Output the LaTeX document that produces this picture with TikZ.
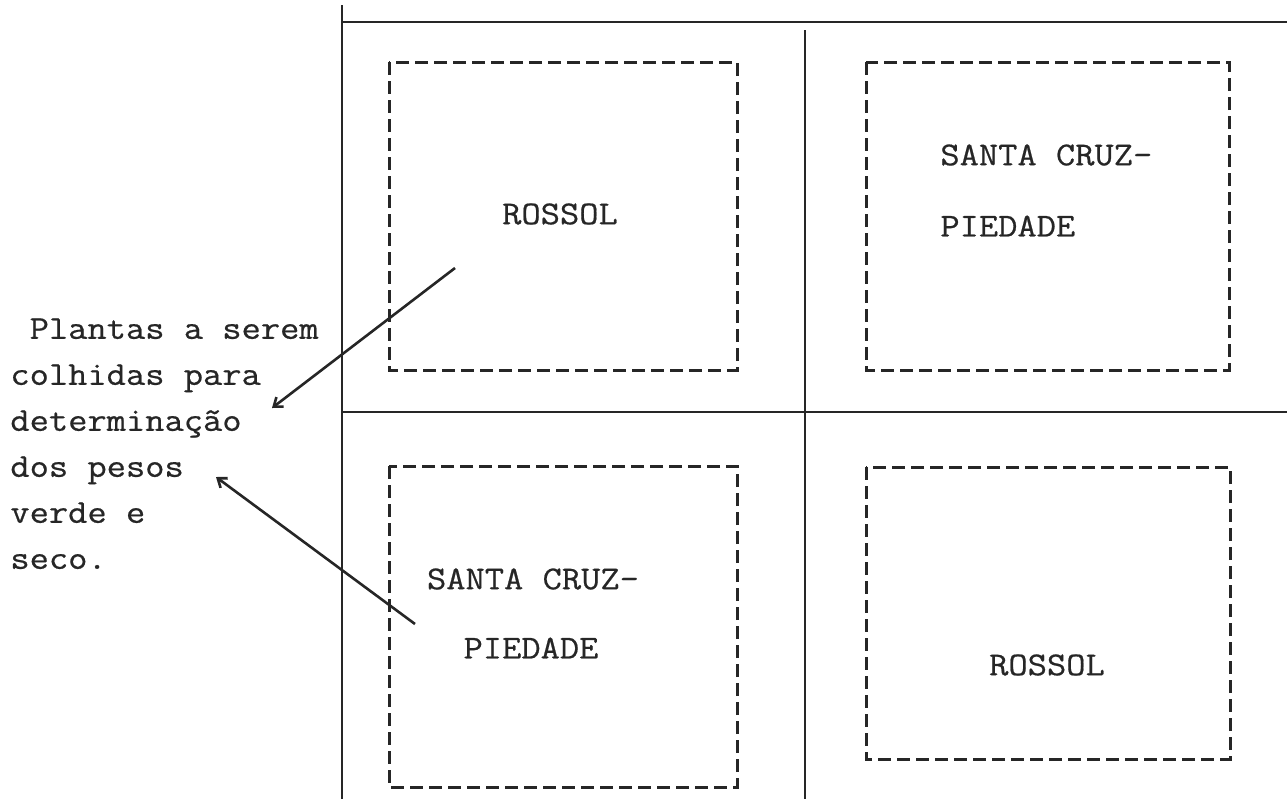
\documentclass[tikz,border=0pt]{standalone}
\usepackage{fontspec}
\setmonofont{Latin Modern Mono}[FakeStretch=1.12,FakeBold=0.6]
\usetikzlibrary{arrows.meta}
\begin{document}
\begin{tikzpicture}[x=0.5pt,y=-0.5pt,
  frame/.style={line width=1.1pt, draw=black!85},
  plotbox/.style={line width=1.5pt, draw=black!85, dash pattern=on 6.5pt off 3pt},
  lbl/.style={font=\ttfamily\fontsize{16.7}{23}\selectfont, text=black!85, inner sep=0pt},
  pointer/.style={line width=1.3pt, draw=black!85, -{Straight Barb[length=4pt,width=6pt]}}]
\useasboundingbox (0,0) rectangle (1287,799);
% field frame
\draw[frame] (342,5) -- (342,799);
\draw[frame] (342,22) -- (1287,22);
\draw[frame] (805,30) -- (805,799);
\draw[frame] (342,412) -- (1287,412);
% plots
\draw[plotbox] (389,62) rectangle (737,370);
\draw[plotbox] (866,62) rectangle (1229,370);
\draw[plotbox] (389,466) rectangle (737,787);
\draw[plotbox] (866,467) rectangle (1230,759);
% labels
\node[lbl] (r1) at (560,214) {ROSSOL};
\node[lbl, anchor=west] (s1a) at (940,155) {SANTA CRUZ-};
\node[lbl, anchor=west] (s1b) at (940,226) {PIEDADE};
\node[lbl] (s2a) at (533,579) {SANTA CRUZ-};
\node[lbl] (s2b) at (531,648) {PIEDADE};
\node[lbl] (r2) at (1047,665) {ROSSOL};
% note
\node[lbl, anchor=north west, align=left] (note) at (10,318)
  {\hphantom{x}Plantas a serem\\colhidas para\\determinação\\dos pesos\\verde e\\seco.};
\coordinate (t1) at (455,268);
\coordinate (h1) at (272,408);
\coordinate (t2) at (415,624);
\coordinate (h2) at (216,477);
\draw[pointer] (t1) -- (h1);
\draw[pointer] (t2) -- (h2);
\end{tikzpicture}
\end{document}
